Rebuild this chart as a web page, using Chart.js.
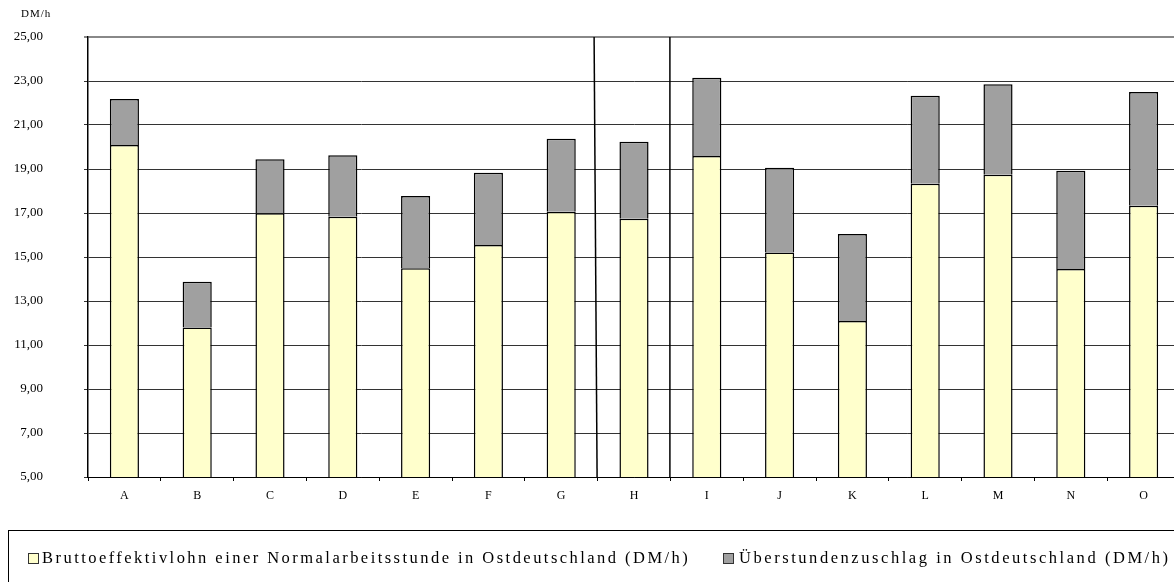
<!DOCTYPE html>
<html>
<head>
<meta charset="utf-8">
<script src="https://cdn.jsdelivr.net/npm/chart.js@4/dist/chart.umd.min.js"></script>
<style>
  html, body { margin: 0; padding: 0; background: #fff; overflow: hidden; }
  #wrap { width: 1182px; height: 582px; }
</style>
</head>
<body>
<div id="wrap"><canvas id="c" width="1182" height="582"></canvas></div>
<script>
// Hourly wages in East Germany by group (DM per hour)
const categories = ['A', 'B', 'C', 'D', 'E', 'F', 'G', 'H', 'I', 'J', 'K', 'L', 'M', 'N', 'O'];
const normalWage = [20.09, 11.79, 16.99, 16.83, 14.49, 15.55, 17.06, 16.74, 19.59, 15.20, 12.09, 18.33, 18.74, 14.45, 17.33];
const overtimeBonus = [2.09, 2.09, 2.45, 2.79, 3.28, 3.28, 3.32, 3.50, 3.56, 3.86, 3.96, 4.00, 4.11, 4.47, 5.17];
const seriesLabels = [
  'Bruttoeffektivlohn einer Normalarbeitsstunde in Ostdeutschland (DM/h)',
  'Überstundenzuschlag in Ostdeutschland (DM/h)'
];
const yMin = 5, yMax = 25, yStep = 2;
const unitLabel = 'DM/h';
// group boundaries: separator after these category indices
const separatorsAfter = [6, 7];

const FONT = '"Liberation Serif", "Times New Roman", serif';
const colors = ['#FFFFCC', '#A0A0A0'];

const decorations = {
  id: 'decorations',
  afterDatasetsDraw(chart) {
    const { ctx, chartArea, scales } = chart;
    const xs = scales.x;
    ctx.save();
    // group separators
    ctx.strokeStyle = '#000';
    ctx.lineWidth = 1.5;
    separatorsAfter.forEach((idx, i) => {
      const xb = (xs.getPixelForValue(idx) + xs.getPixelForValue(idx + 1)) / 2;
      const slant = i === 0 ? 3 : 0;
      ctx.beginPath();
      ctx.moveTo(xb - slant - 0.5, chartArea.top);
      ctx.lineTo(xb - 0.5, chartArea.bottom);
      ctx.stroke();
    });
    ctx.restore();
  },
  afterDraw(chart) {
    const { ctx } = chart;
    ctx.save();
    // unit label above the value axis
    ctx.fillStyle = '#000';
    ctx.font = '11px ' + FONT;
    ctx.letterSpacing = '1px';
    ctx.textBaseline = 'middle';
    ctx.textAlign = 'left';
    ctx.fillText(unitLabel, 21, 14);

    // legend frame
    ctx.letterSpacing = '0px';
    ctx.strokeStyle = '#000';
    ctx.lineWidth = 1;
    ctx.strokeRect(8.5, 530.5, 1300, 100);

    // legend entries: marker position, text start and text end
    const entries = [
      { box: 28, text: 42, end: 688 },
      { box: 723, text: 739, end: 1168 }
    ];
    ctx.font = '16.5px ' + FONT;
    ctx.textBaseline = 'middle';
    entries.forEach((e, i) => {
      const label = seriesLabels[i];
      ctx.letterSpacing = '0px';
      const w = ctx.measureText(label).width;
      const ls = (e.end - e.text - w) / (label.length - 1);
      ctx.fillStyle = colors[i];
      ctx.fillRect(e.box + 0.5, 553.5, 10, 10);
      ctx.strokeStyle = '#333';
      ctx.strokeRect(e.box + 0.5, 553.5, 10, 10);
      ctx.fillStyle = '#000';
      ctx.letterSpacing = ls.toFixed(2) + 'px';
      ctx.fillText(label, e.text, 559);
    });
    ctx.restore();
  }
};

new Chart(document.getElementById('c'), {
  type: 'bar',
  data: {
    labels: categories,
    datasets: [
      {
        label: seriesLabels[0],
        data: normalWage,
        backgroundColor: colors[0],
        borderColor: '#000',
        borderWidth: 1.5
      },
      {
        label: seriesLabels[1],
        data: overtimeBonus,
        backgroundColor: colors[1],
        borderColor: '#000',
        borderWidth: 1.5
      }
    ]
  },
  options: {
    responsive: false,
    animation: false,
    devicePixelRatio: 1,
    layout: { padding: { left: 0, top: 37, right: 2, bottom: 75 } },
    plugins: {
      legend: { display: false },
      tooltip: { enabled: false }
    },
    datasets: {
      bar: { categoryPercentage: 1, barPercentage: 0.4 }
    },
    scales: {
      x: {
        stacked: true,
        offset: true,
        grid: {
          offset: true,
          drawOnChartArea: false,
          drawTicks: true,
          tickLength: 4,
          color: '#000'
        },
        border: { display: true, color: '#000', width: 1 },
        ticks: {
          padding: 8,
          color: '#000',
          font: { family: FONT, size: 12 },
          maxRotation: 0,
          autoSkip: false
        },
        afterFit(scale) { scale.height = 30; }
      },
      y: {
        stacked: true,
        min: yMin,
        max: yMax,
        grid: {
          drawTicks: true,
          tickLength: 4,
          color: (c) => (c.tick && c.tick.value === yMax ? '#888' : '#333'),
          lineWidth: (c) => (c.tick && c.tick.value === yMax ? 2 : 1)
        },
        border: { display: true, color: '#000', width: 1.5 },
        ticks: {
          stepSize: yStep,
          padding: 41,
          color: '#000',
          font: { family: FONT, size: 13 },
          callback: (v) => v.toFixed(2).replace('.', ',')
        },
        afterFit(scale) {
          scale.width = 88;
          // the wide label gap should not push the plot area down
          scale.paddingTop = 0;
          scale.paddingBottom = 0;
        }
      }
    }
  },
  plugins: [decorations]
});
</script>
</body>
</html>
